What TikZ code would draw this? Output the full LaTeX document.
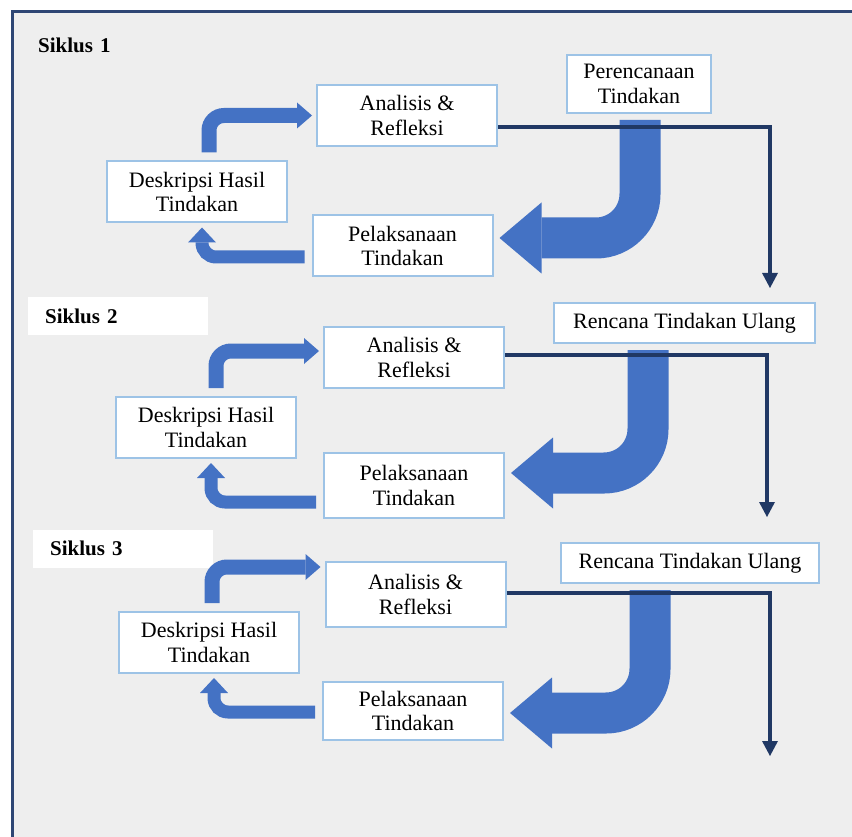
\documentclass[tikz,border=0pt]{standalone}
\usepackage{fontspec}
\setmainfont{Liberation Serif}
\usetikzlibrary{arrows.meta}
\usetikzlibrary{positioning}
\definecolor{bgrey}{HTML}{EEEEEE}
\definecolor{frameblue}{HTML}{2E4674}
\definecolor{arrowblue}{HTML}{4472C4}
\definecolor{navy}{HTML}{203864}
\definecolor{boxline}{HTML}{9DC3E6}
\begin{document}
\begin{tikzpicture}[x=1pt, y=-1pt,
every node/.style={font=\fontsize{22}{24.5}\selectfont, inner sep=2pt},
box/.style={draw=boxline, line width=2pt, fill=white, align=center, minimum width=180pt, minimum height=61pt},
siklus/.style={anchor=west, font=\bfseries\fontsize{21}{24}\selectfont, inner xsep=17pt, text width=146pt, minimum height=38pt},
uparrow/.style={arrowblue, line width=15pt, rounded corners=15pt, -{Triangle[length=15pt, width=26pt, line width=0pt]}},
backarrow/.style={arrowblue, line width=13pt, rounded corners=14pt, -{Triangle[length=15pt, width=28pt, line width=0pt]}},
bigarrow/.style={arrowblue, line width=41pt, rounded corners=44pt, -{Triangle[length=42pt, width=71pt, line width=0pt]}},
navyline/.style={navy, line width=3.5pt, -{Triangle[length=15pt, width=16pt, line width=0pt]}}]
\useasboundingbox (0,0) rectangle (852,837);
\fill[bgrey] (12,12) rectangle (852,837);
\draw[frameblue, line width=3pt] (852,12) -- (12,12) -- (12,837);
\node[siklus] (s1) at (21,45) {Siklus 1};
\node[siklus, fill=white] (s2) at (28,316) {Siklus 2};
\node[siklus, fill=white] (s3) at (33,548.5) {Siklus 3};
\node[box] (a1) at (407,115.5) {Analisis \&\\Refleksi};
\node[box, minimum width=144pt, minimum height=58pt] (r1) at (639,84) {Perencanaan\\Tindakan};
\node[box] (d1) at (197,192) {Deskripsi Hasil\\Tindakan};
\node[box] (p1) at (402.5,246) {Pelaksanaan\\Tindakan};
\node[box] (a2) at (414,357.5) {Analisis \&\\Refleksi};
\node[box, minimum width=261pt, minimum height=40pt] (r2) at (684.5,323) {Rencana Tindakan Ulang};
\node[box] (d2) at (206,427.5) {Deskripsi Hasil\\Tindakan};
\node[box, minimum height=65pt] (p2) at (414,485.5) {Pelaksanaan\\Tindakan};
\node[box, minimum height=65pt] (a3) at (415.5,594.5) {Analisis \&\\Refleksi};
\node[box, minimum width=258pt, minimum height=40pt] (r3) at (690,563) {Rencana Tindakan Ulang};
\node[box] (d3) at (209,642.5) {Deskripsi Hasil\\Tindakan};
\node[box, minimum height=58pt] (p3) at (413,711) {Pelaksanaan\\Tindakan};
\coordinate (e1) at (770,288);
\coordinate (e2) at (767,517);
\coordinate (e3) at (770,756);
\foreach \i/\ux/\uy/\by/\sx/\gy/\ny in {1/12/0/-11/1/8/-11.5, 2/10/6.5/-16.5/-36.5/12.5/2.5, 3/3/27.5/-1/-40/-2/1.5}{
\draw[uparrow] ([xshift=\ux pt, yshift=8pt]d\i.north) |- ([xshift=-4pt, yshift=\uy pt]a\i.west);
\draw[backarrow] ([xshift=-7pt, yshift=\by pt]p\i.west) -| ([xshift=5pt, yshift=-4pt]d\i.south);
\draw[bigarrow] ([xshift=\sx pt, yshift=-6pt]r\i.south) |- ([xshift=6pt, yshift=\gy pt]p\i.east);
\draw[navyline] ([yshift=\ny pt]a\i.east) -| (e\i);}
\end{tikzpicture}
\end{document}
